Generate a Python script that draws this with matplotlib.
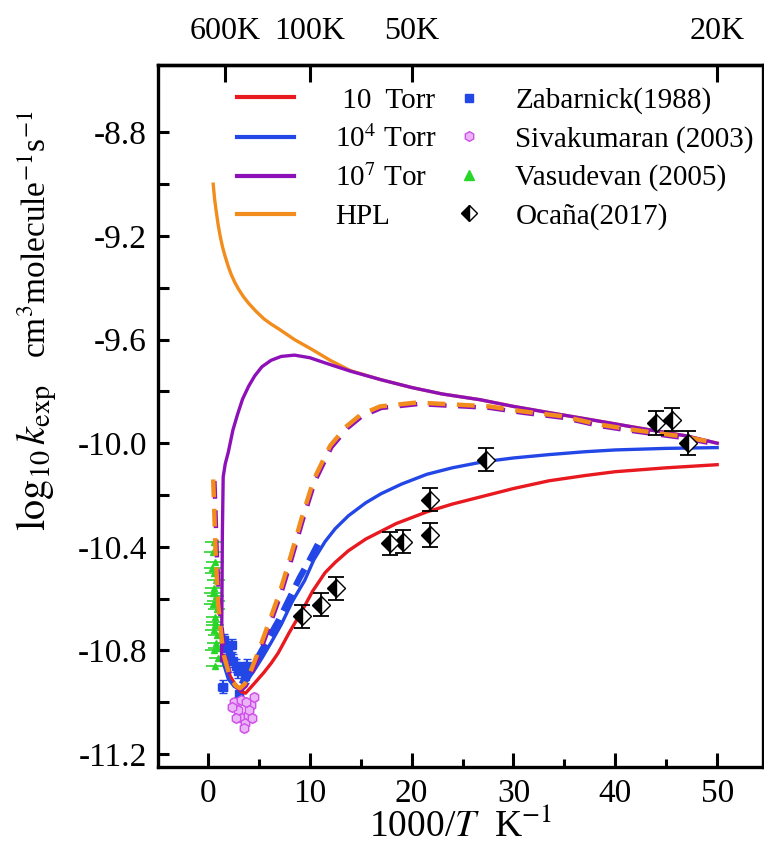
import numpy as np
import matplotlib
matplotlib.use("Agg")
import matplotlib.pyplot as plt
from matplotlib.lines import Line2D

plt.rcParams['font.family'] = ['Liberation Serif', 'DejaVu Serif']
plt.rcParams['mathtext.fontset'] = 'stix'
plt.rcParams['axes.unicode_minus'] = False

# ---- model curves (1000/T, log10 k) ----
hpl_x = [0.52, 0.65, 0.8, 1.0, 1.2, 1.45, 1.7, 2.0, 2.3, 2.65, 3.0, 3.5, 4.0, 4.7, 5.5, 6.2,
         7.0, 8.5, 10.3, 12.0, 14.0, 17.0, 20.0, 23.0, 26.7, 30.0, 33.5, 38.0, 43.3, 47.0, 50.0]
hpl_y = [-9.00, -9.055, -9.10, -9.155, -9.20, -9.245, -9.28, -9.318, -9.35, -9.38, -9.405,
         -9.435, -9.46, -9.49, -9.52, -9.54, -9.56, -9.60, -9.64, -9.68, -9.72, -9.755,
         -9.785, -9.81, -9.832, -9.858, -9.882, -9.912, -9.948, -9.972, -10.0]

p7_x = [1.34, 1.38, 1.42, 1.5, 1.7, 2.0, 2.45, 2.9, 3.4, 4.0, 4.6, 5.3, 6.2, 7.2, 8.5, 10.0,
        11.5, 14.0, 17.0, 20.0, 23.0, 26.7, 30.0, 33.5, 38.0, 43.3, 47.0, 50.0]
p7_y = [-10.84, -10.60, -10.35, -10.13, -10.08, -10.035, -9.95, -9.89, -9.83, -9.78, -9.74,
        -9.705, -9.68, -9.665, -9.66, -9.67, -9.69, -9.722, -9.755, -9.785, -9.81, -9.832,
        -9.858, -9.882, -9.912, -9.948, -9.972, -10.0]

p4_x = [1.45, 2.0, 2.6, 3.2, 3.8, 4.5, 5.3, 6.2, 7.2, 8.3, 9.5, 10.4, 11.5, 12.5, 13.8, 15.5,
        17.0, 19.0, 21.5, 24.0, 27.0, 30.0, 33.5, 37.0, 40.0, 45.0, 50.0]
p4_y = [-10.84, -10.91, -10.94, -10.945, -10.92, -10.88, -10.83, -10.77, -10.70, -10.61, -10.53,
        -10.45, -10.38, -10.33, -10.28, -10.23, -10.195, -10.158, -10.12, -10.095, -10.072,
        -10.057, -10.044, -10.033, -10.026, -10.02, -10.017]

p4d_x = [3.3, 4.0, 5.0, 6.0, 7.0, 8.0, 9.0, 10.0, 10.8]
p4d_y = [-10.93, -10.885, -10.82, -10.75, -10.68, -10.60, -10.52, -10.45, -10.39]

p1_x = [1.5, 2.2, 2.8, 3.3, 3.7, 4.5, 5.5, 6.2, 6.9, 8.0, 9.2, 10.3, 11.5, 12.5, 13.8, 15.5,
        18.5, 21.5, 24.0, 27.0, 30.0, 33.5, 37.0, 40.0, 45.0, 50.0]
p1_y = [-10.82, -10.90, -10.94, -10.96, -10.965, -10.93, -10.885, -10.85, -10.81, -10.73,
        -10.65, -10.57, -10.50, -10.46, -10.415, -10.37, -10.31, -10.265, -10.235, -10.205,
        -10.175, -10.145, -10.125, -10.11, -10.095, -10.083]

dash_x = [0.52, 0.6, 0.75, 1.0, 1.5, 2.15, 2.7, 3.15, 3.6, 4.0, 4.9, 6.1, 7.1, 8.1, 9.2, 10.4,
          12.0, 13.6, 15.0, 16.9, 20.5, 24.4, 27.6, 30.9, 34.8, 38.4, 41.7, 46.6, 50.0]
dash_y = [-10.14, -10.23, -10.42, -10.62, -10.81, -10.90, -10.935, -10.946, -10.93, -10.90,
          -10.81, -10.68, -10.57, -10.44, -10.29, -10.14, -10.01, -9.935, -9.89, -9.858,
          -9.843, -9.851, -9.858, -9.877, -9.896, -9.928, -9.948, -9.974, -10.0]

# ---- experimental data ----
zab_x = [1.6, 1.9, 2.2, 2.5, 2.8, 3.0, 3.3, 3.6, 1.45, 3.1, 2.4, 3.8]
zab_y = [-10.76, -10.79, -10.82, -10.84, -10.86, -10.88, -10.87, -10.90, -10.94, -10.97,
         -10.78, -10.86]
zab_xe = [0.2, 0.2, 0.2, 0.2, 0.2, 0.2, 0.2, 0.2, 0.45, 0.1, 0.2, 0.2]
zab_ye = [0.025] * 12

siv_x = [2.6, 3.0, 3.3, 3.6, 3.9, 4.2, 4.5, 2.8, 3.5, 4.0, 3.2, 2.4, 3.7, 4.3]
siv_y = [-11.00, -11.03, -11.06, -11.08, -11.05, -11.01, -10.98, -11.06, -11.10, -11.03,
         -10.99, -11.02, -11.00, -11.06]
siv_ye = [0.015] * 14

vas_x = [0.6, 0.5, 0.7, 0.55, 0.8, 0.6, 0.75, 0.5, 0.85, 0.65, 0.7, 0.55, 0.9, 0.75, 0.6,
         0.95, 0.7, 0.45, 0.8, 0.65, 0.9, 0.5]
vas_y = [-10.38, -10.42, -10.46, -10.50, -10.53, -10.56, -10.59, -10.62, -10.64, -10.67,
         -10.70, -10.72, -10.74, -10.77, -10.80, -10.83, -10.86, -10.48, -10.61, -10.69,
         -10.79, -10.58]
vas_xe = [0.85] * 22

oca_x = [9.19, 11.15, 12.62, 17.84, 19.15, 21.76, 21.76, 27.3, 44.0, 45.6, 47.1]
oca_y = [-10.669, -10.624, -10.56, -10.386, -10.38, -10.218, -10.354, -10.064, -9.922,
         -9.909, -9.999]
oca_ye = [0.045] * 11

top_ticks = [1000 / 600, 10, 20, 50]
top_labels = ['600K', '100K', '50K', '20K']

red = '#e8191f'
blue = '#2347e6'
purple = '#8e10b8'
orange = '#f28c1c'
green = '#2ad52a'
violet = '#d050ea'

fig = plt.figure(figsize=(7.64, 8.57), dpi=100)
ax = fig.add_axes([158 / 764, 1 - 767 / 857, 605 / 764, 702 / 857])

lw = 2.4
ax.plot(hpl_x, hpl_y, color=orange, lw=lw, zorder=3)
ax.plot(p7_x, p7_y, color=purple, lw=lw, zorder=4)
ax.plot(p1_x, p1_y, color=red, lw=lw, zorder=3)
ax.plot(p4_x, p4_y, color=blue, lw=lw, zorder=3)
ax.plot(p4d_x, p4d_y, color=blue, lw=4.5, dashes=(3, 1.5), zorder=3)
ax.plot(np.array(dash_x) + 0.12, np.array(dash_y) - 0.006, color=purple, lw=3.2,
        dashes=(4, 2.6), zorder=4)
ax.plot(dash_x, dash_y, color=orange, lw=3.2, dashes=(4, 2.6), zorder=5)

ax.errorbar(vas_x, vas_y, xerr=vas_xe, fmt='^', color=green, ms=5, lw=1.2,
            capsize=0, zorder=2)
ax.errorbar(zab_x, zab_y, xerr=zab_xe, yerr=zab_ye, fmt='s', color=blue, ms=6, lw=1.5,
            capsize=3, zorder=2)
ax.errorbar(siv_x, siv_y, yerr=siv_ye, fmt='h', color=violet, mfc='#eab4f6', ms=7,
            lw=1.2, capsize=2, zorder=2)
ax.errorbar(oca_x, oca_y, yerr=oca_ye, fmt='D', color='black', mfc='black', mfcalt='white',
            fillstyle='left', mec='black', ms=9, lw=1.3, capsize=6, capthick=1.3, zorder=6)

ax.set_xlim(-4.9, 54.5)
ax.set_ylim(-11.25, -8.54)
ax.set_xticks([0, 10, 20, 30, 40, 50])
ax.set_xticks([5, 15, 25, 35, 45], minor=True)
ax.set_yticks([-8.8, -9.2, -9.6, -10.0, -10.4, -10.8, -11.2])
ax.set_yticks([-9.0, -9.4, -9.8, -10.2, -10.6, -11.0], minor=True)
ax.set_yticklabels(['-8.8', '-9.2', '-9.6', '-10.0', '-10.4', '-10.8', '-11.2'])
ax.tick_params(axis='both', which='both', direction='in', width=2.2, labelsize=24)
ax.tick_params(axis='x', which='major', length=10, pad=8)
ax.tick_params(axis='x', which='minor', length=6)
ax.tick_params(axis='y', which='both', length=8, pad=8)
for s in ax.spines.values():
    s.set_linewidth(2.4)

top = ax.secondary_xaxis('top')
top.set_xticks(top_ticks)
top.set_xticklabels(top_labels)
top.tick_params(direction='in', length=12, width=2.2, labelsize=23, pad=14)
top.spines['top'].set_linewidth(2.4)

ax.set_xlabel(r'1000/$T$  K$^{-1}$', fontsize=27, labelpad=0)
fig.text(46 / 764, 1 - 458 / 857, r'$\log_{10}k_{\rm exp}$', rotation=90, fontsize=29,
         rotation_mode='anchor', ha='center', va='baseline')
fig.text(46 / 764, 1 - 234 / 857, r'cm$^3$molecule$^{-1}$s$^{-1}$', rotation=90, fontsize=24,
         rotation_mode='anchor', ha='center', va='baseline')

line_handles = [Line2D([], [], color=red, lw=3),
                Line2D([], [], color=blue, lw=3),
                Line2D([], [], color=purple, lw=3),
                Line2D([], [], color=orange, lw=3)]
line_labels = [' 10  Torr', r'10$^4$ Torr', r'10$^7$ Tor', 'HPL']
mark_handles = [Line2D([], [], ls='', marker='s', color=blue, ms=6),
                Line2D([], [], ls='', marker='h', color=violet, mfc='#eab4f6', ms=7),
                Line2D([], [], ls='', marker='^', color=green, ms=7),
                Line2D([], [], ls='', marker='D', color='black', mfc='black',
                       mfcalt='white', fillstyle='left', ms=8)]
mark_labels = ['Zabarnick(1988)', 'Sivakumaran (2003)', 'Vasudevan (2005)', 'Ocaña(2017)']

leg1 = ax.legend(line_handles, line_labels, frameon=False, fontsize=21, loc='upper left',
                 bbox_to_anchor=(0.112, 0.985), handlelength=1.95, labelspacing=0.4,
                 handletextpad=1.4, borderaxespad=0.2, borderpad=0.2)
ax.add_artist(leg1)
ax.legend(mark_handles, mark_labels, frameon=False, fontsize=21, loc='upper left',
          bbox_to_anchor=(0.47, 0.985), handlelength=1.0, labelspacing=0.4,
          handletextpad=1.1, borderaxespad=0.2, borderpad=0.2)

fig.savefig('out.png', dpi=100)
